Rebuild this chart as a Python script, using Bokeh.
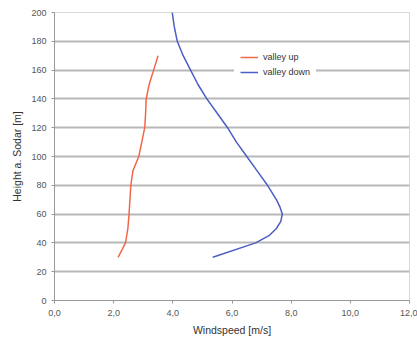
from bokeh.plotting import figure
from bokeh.models import Range1d, FixedTicker, CustomJSTickFormatter, Legend, LegendItem
from bokeh.embed import file_html
from bokeh.resources import INLINE

heights_up = [30, 40, 50, 60, 70, 80, 90, 100, 110, 120, 130, 140, 150, 160, 170]
speed_up = [2.15, 2.4, 2.48, 2.52, 2.55, 2.58, 2.65, 2.85, 2.95, 3.05, 3.08, 3.1, 3.2, 3.35, 3.5]

heights_down = [30, 40, 45, 50, 55, 60, 65, 70, 80, 90, 100, 110, 120, 130, 140, 150, 160, 170, 180, 190, 200]
speed_down = [5.35, 6.8, 7.25, 7.5, 7.65, 7.7, 7.62, 7.5, 7.2, 6.85, 6.5, 6.15, 5.85, 5.5, 5.15, 4.85, 4.6, 4.35, 4.15, 4.05, 3.98]

x_ticks = [0, 2, 4, 6, 8, 10, 12]
y_ticks = [0, 20, 40, 60, 80, 100, 120, 140, 160, 180, 200]

FONT = "Liberation Sans"
TXT = "#555555"

p = figure(width=417, height=340, output_backend="svg", toolbar_location=None,
           x_range=Range1d(0, 12), y_range=Range1d(0, 200),
           min_border_left=54, min_border_right=8, min_border_top=12, min_border_bottom=40)

r_up = p.line(speed_up, heights_up, line_color="#f06848", line_width=1.5)
r_down = p.line(speed_down, heights_down, line_color="#4c5ec4", line_width=1.5)

p.xaxis.ticker = FixedTicker(ticks=x_ticks)
p.yaxis.ticker = FixedTicker(ticks=y_ticks)
p.xaxis.formatter = CustomJSTickFormatter(code="return tick.toFixed(1).replace('.', ',');")

for ax in (p.xaxis, p.yaxis):
    ax.axis_line_color = "#999999"
    ax.major_tick_line_color = "#999999"
    ax.minor_tick_line_color = None
    ax.major_tick_in = 0
    ax.major_tick_out = 3
    ax.major_label_text_font = FONT
    ax.major_label_text_font_size = "9px"
    ax.major_label_text_color = TXT
    ax.axis_label_text_font = FONT
    ax.axis_label_text_font_size = "10.5px"
    ax.axis_label_text_font_style = "normal"
    ax.axis_label_text_color = "#333333"

p.xaxis.axis_label = "Windspeed [m/s]"
p.yaxis.axis_label = "Height a. Sodar [m]"
p.xaxis.major_label_standoff = 6
p.yaxis.major_label_standoff = 5

p.xgrid.grid_line_color = None
p.ygrid.ticker = FixedTicker(ticks=y_ticks[1:-1])
p.ygrid.grid_line_color = "#b8b8b8"
p.ygrid.grid_line_width = 2

p.outline_line_color = "#d8d8d8"
p.outline_line_width = 1

legend = Legend(items=[LegendItem(label="valley up", renderers=[r_up]),
                       LegendItem(label="valley down", renderers=[r_down])],
                location=(180, 216))
legend.label_text_font = FONT
legend.label_text_font_size = "9px"
legend.label_text_color = "#333333"
legend.glyph_width = 18
legend.glyph_height = 12
legend.label_height = 12
legend.spacing = 3
legend.padding = 6
legend.margin = 0
legend.border_line_alpha = 0
legend.background_fill_color = "white"
legend.background_fill_alpha = 1
p.add_layout(legend)

open("out.html", "w").write(file_html(p, INLINE))
